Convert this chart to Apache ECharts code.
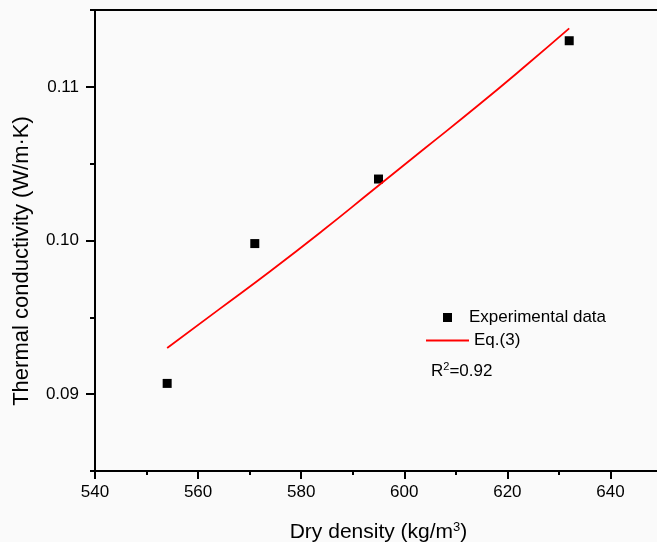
<!DOCTYPE html>
<html>
<head>
<meta charset="utf-8">
<script src="https://cdn.jsdelivr.net/npm/echarts@6/dist/echarts.min.js"></script>
<style>
html,body{margin:0;padding:0;background:#fafafa;}
#c{width:657px;height:542px;}
</style>
</head>
<body>
<div id="c"></div>
<script>
// Experimental data
var expX = [554, 571, 595, 632];
var expY = [0.0907, 0.0998, 0.1040, 0.1130];
// Eq.(3) fitted curve
var eqX = [554, 564, 574, 584, 594, 604, 614, 624, 632];
var eqY = [0.0930, 0.0955, 0.0980, 0.1006, 0.1033, 0.1060, 0.1087, 0.1115, 0.1138];
// tick labels
var xMajor = [540, 560, 580, 600, 620, 640];
var xMinor = [550, 570, 590, 610, 630, 650];
var yMajor = [0.09, 0.10, 0.11];
var yMinor = [0.085, 0.095, 0.105, 0.115];
var seriesNames = ['Experimental data', 'Eq.(3)'];

var FONT = '"Liberation Sans", Arial, sans-serif';
var chart = echarts.init(document.getElementById('c'));
var axisLineStyle = {color: '#000', width: 2};

chart.setOption({
  backgroundColor: '#fafafa',
  animation: false,
  grid: {left: 95, top: 10, width: 567, height: 461, outerBoundsMode: 'none', containLabel: false},
  xAxis: [
    {
      type: 'value', position: 'bottom', min: 540, max: 650,
      axisLine: {show: true, lineStyle: axisLineStyle},
      axisTick: {show: true, inside: false, length: 8, lineStyle: {color: '#000', width: 2}, customValues: xMajor},
      axisLabel: {show: true, margin: 13, fontSize: 17, fontFamily: FONT, color: '#000', customValues: xMajor},
      splitLine: {show: false},
      name: '{a|Dry density (kg/m}{s|3}{a|)}',
      nameLocation: 'middle', nameGap: 50,
      nameTextStyle: {
        rich: {
          a: {fontSize: 21, fontFamily: FONT, color: '#000'},
          s: {fontSize: 13, fontFamily: FONT, color: '#000', padding: [0, 0, 10, 0]}
        }
      }
    },
    {
      type: 'value', position: 'bottom', min: 540, max: 650,
      axisLine: {show: false},
      axisTick: {show: true, length: 4, lineStyle: {color: '#000', width: 2}, customValues: xMinor},
      axisLabel: {show: false},
      splitLine: {show: false}
    },
    {
      type: 'value', position: 'top', min: 540, max: 650,
      axisLine: {show: true, lineStyle: axisLineStyle},
      axisTick: {show: false}, axisLabel: {show: false}, splitLine: {show: false}
    }
  ],
  yAxis: [
    {
      type: 'value', position: 'left', min: 0.085, max: 0.115,
      axisLine: {show: true, lineStyle: axisLineStyle},
      axisTick: {show: true, length: 9, lineStyle: {color: '#000', width: 2}, customValues: yMajor},
      axisLabel: {show: true, margin: 16, fontSize: 17, fontFamily: FONT, color: '#000', customValues: yMajor,
        formatter: function (v) { return (Math.round(v * 100) / 100).toFixed(2); }},
      splitLine: {show: false}
    },
    {
      type: 'value', position: 'left', min: 0.085, max: 0.115,
      axisLine: {show: false},
      axisTick: {show: true, length: 5, lineStyle: {color: '#000', width: 2}, customValues: yMinor},
      axisLabel: {show: false},
      splitLine: {show: false}
    }
  ],
  legend: [
    {
      orient: 'vertical', left: 438, top: 304,
      itemWidth: 9, itemHeight: 9, icon: 'rect',
      textStyle: {fontSize: 17, fontFamily: FONT, color: '#000', lineHeight: 17, padding: [0, 0, 0, 12]},
      data: [seriesNames[0]]
    },
    {
      orient: 'vertical', left: 421, top: 327,
      itemWidth: 43, itemHeight: 2, icon: 'rect',
      textStyle: {fontSize: 17, fontFamily: FONT, color: '#000', lineHeight: 17},
      data: [seriesNames[1]]
    }
  ],
  series: [
    {
      name: seriesNames[0], type: 'scatter', xAxisIndex: 0, yAxisIndex: 0,
      symbol: 'rect', symbolSize: 9,
      itemStyle: {color: '#000', opacity: 1},
      data: expX.map(function (x, i) { return [x, expY[i]]; })
    },
    {
      name: seriesNames[1], type: 'line', xAxisIndex: 0, yAxisIndex: 0,
      symbol: 'none', smooth: true,
      lineStyle: {color: '#ff0000', width: 1.8},
      itemStyle: {color: '#ff0000'},
      data: eqX.map(function (x, i) { return [x, eqY[i]]; })
    }
  ],
  graphic: [
    {
      type: 'text', x: 22, y: 261, rotation: Math.PI / 2,
      style: {text: 'Thermal conductivity (W/m\u00b7K)', font: '22px ' + FONT, fill: '#000', align: 'center', verticalAlign: 'middle'}
    },
    {
      type: 'text', x: 431, y: 371,
      style: {
        text: '{a|R}{s|2}{a|=0.92}', verticalAlign: 'middle', align: 'left',
        rich: {
          a: {fontSize: 17, fontFamily: FONT, fill: '#000'},
          s: {fontSize: 11, fontFamily: FONT, fill: '#000', padding: [0, 0, 8, 0]}
        }
      }
    }
  ]
});
</script>
</body>
</html>
